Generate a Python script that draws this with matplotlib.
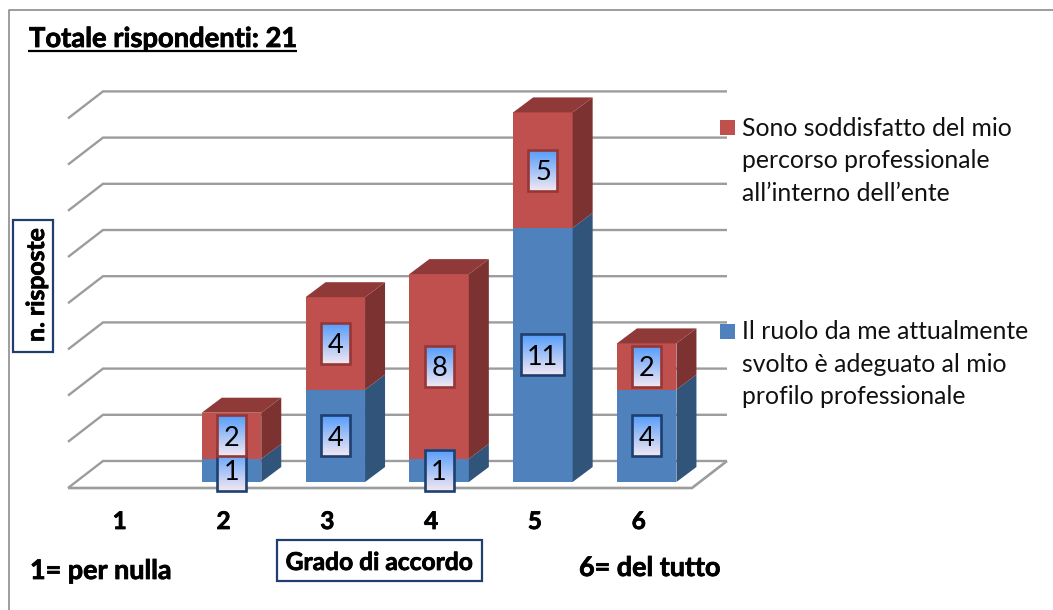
import numpy as np
import matplotlib
matplotlib.use("Agg")
import matplotlib.pyplot as plt
import matplotlib.patheffects as pe
from matplotlib.patches import Polygon, Rectangle
from matplotlib.transforms import Affine2D

categories = [1, 2, 3, 4, 5, 6]
ruolo = [0, 1, 4, 1, 11, 4]
soddisfatto = [0, 2, 4, 8, 5, 2]
grid_values = [0, 2, 4, 6, 8, 10, 12, 14, 16]
legend_soddisfatto = ["Sono soddisfatto del mio", "percorso professionale", "all\u2019interno dell\u2019ente"]
legend_ruolo = ["Il ruolo da me attualmente", "svolto \u00e8 adeguato al mio", "profilo professionale"]

W, H = 1053, 610
PX_PER_CAT = 103.8
PX_PER_VAL = 23.1
X2_PX = 231.5
Y0_PX = 482.0

plt.rcParams['font.family'] = ['Lato', 'DejaVu Sans']
fig = plt.figure(figsize=(W / 100, H / 100), dpi=100, facecolor='white')
ax = fig.add_axes([0, 0, 1, 1])
ax.set_xlim(2 - X2_PX / PX_PER_CAT, 2 + (W - X2_PX) / PX_PER_CAT)
ax.set_ylim((Y0_PX - H) / PX_PER_VAL, Y0_PX / PX_PER_VAL)
ax.axis('off')

px = Affine2D().scale(1, -1).translate(0, H)   # image pixels -> display
HEAVY = [pe.withStroke(linewidth=0.55, foreground='black')]


def dx(p):
    return p / PX_PER_CAT


def dy(p):
    return p / PX_PER_VAL


# frame
ax.plot([8.5, 8.5, W], [H, 9.5, 9.5], color='#8c8c8c', lw=1.2, transform=px, zorder=1)

# walls / grid
GRID = '#9c9c9c'
x_left = 2 + (68 - X2_PX) / PX_PER_CAT
x_back = 2 + (103 - X2_PX) / PX_PER_CAT
x_right = 2 + (727 - X2_PX) / PX_PER_CAT
x_fr = 2 + (692 - X2_PX) / PX_PER_CAT
wall_up = dy(21)      # back line above the value position
wall_front = dy(-6)   # front line below the value position
for v in grid_values:
    ax.plot([x_left, x_back, x_right],
            [v + wall_front, v + wall_up, v + wall_up],
            color=GRID, lw=1.7, zorder=2, solid_joinstyle='miter',
            solid_capstyle='butt')
ax.plot([x_left, x_fr, x_right],
        [wall_front, wall_front, wall_up],
        color=GRID, lw=1.9, zorder=2, solid_joinstyle='miter',
        solid_capstyle='butt')

# bars
BAR_W = dx(59.5)
DEPTH_X = dx(20)
DEPTH_Y = dy(15)
SERIES = [
    (ruolo, '#4F81BD', '#31547A', None, '#1F3F6F'),
    (soddisfatto, '#C0504D', '#7B3230', '#8F3A38', '#953735'),
]
bottom = np.zeros(len(categories))
labels = []
for values, front, side, top, edge in SERIES:
    vals = np.array(values, dtype=float)
    x = np.array(categories, dtype=float)
    mask = vals > 0
    ax.bar(x[mask], vals[mask], BAR_W, bottom=bottom[mask], color=front, zorder=3)
    for xi, b, h in zip(x[mask], bottom[mask], vals[mask]):
        xr = xi + BAR_W / 2
        xl = xi - BAR_W / 2
        ax.add_patch(Polygon([(xr, b), (xr + DEPTH_X, b + DEPTH_Y),
                              (xr + DEPTH_X, b + h + DEPTH_Y), (xr, b + h)],
                             closed=True, fc=side, ec='none', zorder=3))
        if top is not None:
            ax.add_patch(Polygon([(xl, b + h), (xl + DEPTH_X, b + h + DEPTH_Y),
                                  (xr + DEPTH_X, b + h + DEPTH_Y), (xr, b + h)],
                                 closed=True, fc=top, ec='none', zorder=3.1))
        labels.append((xi, b + h / 2, int(h), edge))
    bottom = bottom + vals

# data labels with gradient fill
grad = np.linspace(0, 1, 64)[:, None, None]
c_top = np.array([0x55, 0x9C, 0xFB]) / 255
c_bot = np.array([0xF2, 0xE8, 0xF2]) / 255
grad_img = (c_top * (1 - grad) + c_bot * grad)
BOX_H = dy(41)
for i, (xc, yc, val, edge) in enumerate(labels):
    BOX_W = dx(43 if val >= 10 else 29)
    z = 5 + i * 0.01
    ext = (xc - BOX_W / 2, xc + BOX_W / 2, yc - BOX_H / 2, yc + BOX_H / 2)
    ax.imshow(grad_img, extent=ext, aspect='auto', origin='upper', zorder=z,
              interpolation='bilinear')
    ax.add_patch(Rectangle((ext[0], ext[2]), BOX_W, BOX_H, fc='none', ec=edge,
                           lw=1.9, zorder=z + 0.001))
    ax.text(xc, yc, str(val), ha='center', va='center_baseline', fontsize=19.5,
            color='black', zorder=z + 0.002)
ax.set_xlim(2 - X2_PX / PX_PER_CAT, 2 + (W - X2_PX) / PX_PER_CAT)
ax.set_ylim((Y0_PX - H) / PX_PER_VAL, Y0_PX / PX_PER_VAL)

# category labels
for c in categories:
    ax.text(c - dx(8), -dy(47), str(c), ha='center', va='baseline',
            fontsize=17.5, fontweight='bold', color='black', path_effects=HEAVY)


def t(x, y, s, **kw):
    kw.setdefault('color', 'black')
    kw.setdefault('va', 'baseline')
    return ax.text(x, y, s, transform=px, **kw)


# title
t(29, 47, "Totale rispondenti: 21", fontsize=19.7, fontweight='bold', path_effects=HEAVY)
ax.plot([28, 297], [50.5, 50.5], color='black', lw=1.6, transform=px, solid_capstyle='butt')

# legends
ax.add_patch(Rectangle((720, 120), 15, 15, fc='#C0504D', ec='none', transform=px))
ax.add_patch(Rectangle((720, 324), 15, 15, fc='#4F81BD', ec='none', transform=px))
for s, y in zip(legend_soddisfatto, [136, 168.5, 201]):
    t(742, y, s, fontsize=17.8, color='#111111')
for s, y in zip(legend_ruolo, [339, 371.5, 404]):
    t(742, y, s, fontsize=17.8, color='#111111')

# scale notes
t(30, 579, "1= per nulla", fontsize=19.4, fontweight='bold', path_effects=HEAVY)
t(579, 576, "6= del tutto", fontsize=19.4, fontweight='bold', path_effects=HEAVY)

# axis titles in boxes
BOX_EDGE = '#1F3F6F'
ax.add_patch(Rectangle((277, 540), 205, 41, fc='white', ec=BOX_EDGE, lw=1.6, transform=px, zorder=4))
t(379.5, 570, "Grado di accordo", fontsize=17.7, fontweight='bold', ha='center', zorder=5, path_effects=HEAVY)
ax.add_patch(Rectangle((13, 220), 40, 132, fc='white', ec=BOX_EDGE, lw=1.6, transform=px, zorder=4))
t(48, 285, "n. risposte", fontsize=17.8, fontweight='bold', rotation=90, ha='right', va='center',
  rotation_mode='default', zorder=5, path_effects=HEAVY)

fig.savefig('out.png', dpi=100)
